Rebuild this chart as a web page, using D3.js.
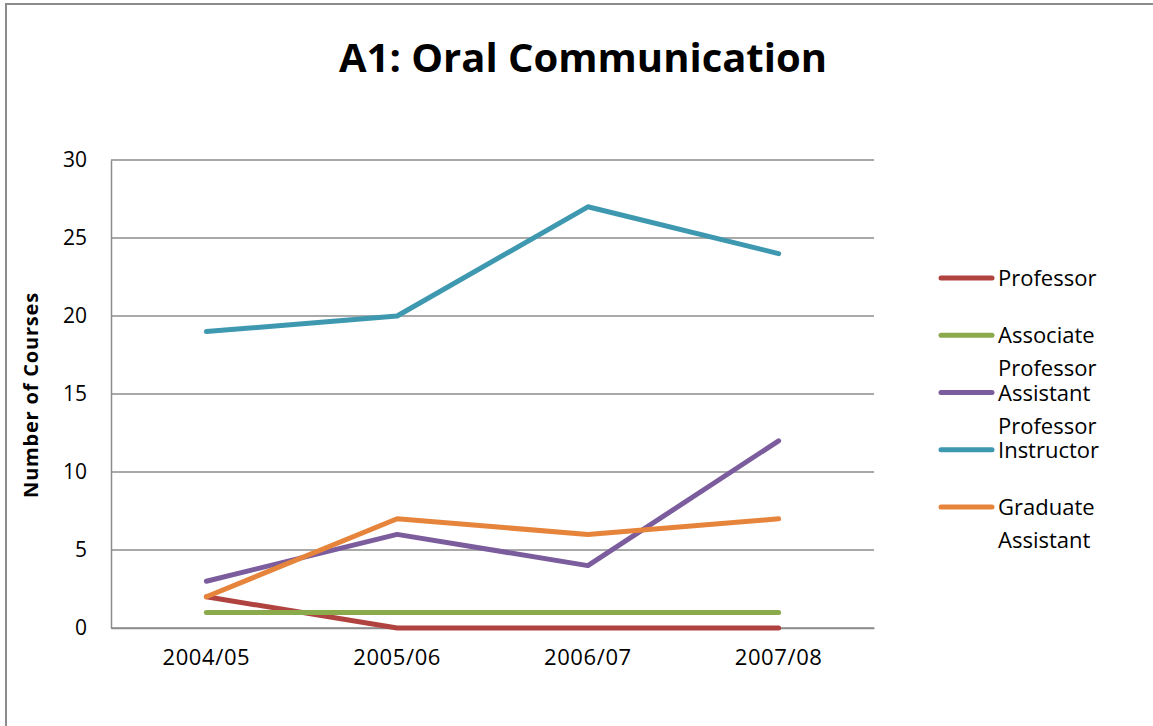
<!DOCTYPE html>
<html>
<head>
<meta charset="utf-8">
<script src="https://cdn.jsdelivr.net/npm/d3@7"></script>
<style>
  html, body { margin: 0; padding: 0; background: #fff; }
  svg { display: block; font-family: "Open Sans", "Noto Sans", sans-serif; }
</style>
</head>
<body>
<svg id="chart" width="1153" height="726"></svg>
<script>
// Course counts per academic year, by instructor rank
const years = ["2004/05", "2005/06", "2006/07", "2007/08"];
const seriesNames = ["Professor", "Associate Professor", "Assistant Professor", "Instructor", "Graduate Assistant"];
const legendLines = [["Professor"], ["Associate", "Professor"], ["Assistant", "Professor"], ["Instructor"], ["Graduate", "Assistant"]];
const professor = [2, 0, 0, 0];
const associateProfessor = [1, 1, 1, 1];
const assistantProfessor = [3, 6, 4, 12];
const instructor = [19, 20, 27, 24];
const graduateAssistant = [2, 7, 6, 7];
const yTicks = [0, 5, 10, 15, 20, 25, 30];
const colors = ["#B0433F", "#8AAA4C", "#7B5C9C", "#3E98B0", "#E5843A"];

const seriesValues = [professor, associateProfessor, assistantProfessor, instructor, graduateAssistant];
const series = seriesNames.map((name, i) => ({ name, values: seriesValues[i], color: colors[i], label: legendLines[i] }));

const svg = d3.select("#chart");

// chart frame
svg.append("rect")
  .attr("x", 6).attr("y", 4)
  .attr("width", 1160).attr("height", 740)
  .attr("fill", "#fff")
  .attr("stroke", "#8c8c8c").attr("stroke-width", 2);

const plot = { left: 111, right: 874, top: 160, bottom: 628 };

const x = d3.scaleBand().domain(years).range([plot.left, plot.right]);
const y = d3.scaleLinear().domain([0, 30]).range([plot.bottom, plot.top]);

// horizontal gridlines
svg.append("g")
  .selectAll("line")
  .data(yTicks)
  .join("line")
  .attr("x1", plot.left).attr("x2", plot.right)
  .attr("y1", d => y(d)).attr("y2", d => y(d))
  .attr("stroke", "#8c8c8c").attr("stroke-width", 1.3);

// y axis
const yAxis = svg.append("g")
  .attr("transform", `translate(${plot.left},0)`)
  .call(d3.axisLeft(y).tickValues(yTicks).tickSize(0).tickPadding(24));
yAxis.select(".domain").attr("stroke", "#8c8c8c").attr("stroke-width", 1.5);
yAxis.selectAll("text")
  .attr("font-size", 21).attr("fill", "#000")
  .attr("font-family", "'Open Sans', sans-serif");

// x axis
const xAxis = svg.append("g")
  .attr("transform", `translate(0,${plot.bottom})`)
  .call(d3.axisBottom(x).tickSize(0).tickPadding(21));
xAxis.select(".domain").attr("stroke", "#8c8c8c").attr("stroke-width", 1.5);
xAxis.selectAll("text")
  .attr("font-size", 22).attr("fill", "#000")
  .attr("letter-spacing", 0.6)
  .attr("font-family", "'Open Sans', sans-serif");

// series lines
const line = d3.line()
  .x((d, i) => x(years[i]) + x.bandwidth() / 2)
  .y(d => y(d));

svg.append("g")
  .selectAll("path")
  .data(series)
  .join("path")
  .attr("d", d => line(d.values))
  .attr("fill", "none")
  .attr("stroke", d => d.color)
  .attr("stroke-width", 5)
  .attr("stroke-linejoin", "round")
  .attr("stroke-linecap", "round");

// title
svg.append("text")
  .attr("x", 583).attr("y", 72)
  .attr("text-anchor", "middle")
  .attr("font-size", 40).attr("font-weight", "bold")
  .attr("fill", "#000")
  .text("A1: Oral Communication");

// y axis title
svg.append("text")
  .attr("transform", "translate(38,395) rotate(-90)")
  .attr("text-anchor", "middle")
  .attr("font-size", 20).attr("font-weight", "bold")
  .attr("letter-spacing", 0.8)
  .attr("fill", "#000")
  .text("Number of Courses");

// legend
const legend = svg.append("g");
const legendY = d3.scalePoint().domain(seriesNames).range([278, 507]);
const items = legend.selectAll("g")
  .data(series)
  .join("g")
  .attr("transform", d => `translate(0,${legendY(d.name)})`);
items.append("line")
  .attr("x1", 941).attr("x2", 992)
  .attr("y1", 0).attr("y2", 0)
  .attr("stroke", d => d.color)
  .attr("stroke-width", 5)
  .attr("stroke-linecap", "round");
items.append("text")
  .attr("x", 998).attr("y", 8)
  .attr("font-size", 22).attr("fill", "#000")
  .selectAll("tspan")
  .data(d => d.label)
  .join("tspan")
  .attr("x", 998)
  .attr("dy", (d, i) => i === 0 ? 0 : 33)
  .text(d => d);
</script>
</body>
</html>
